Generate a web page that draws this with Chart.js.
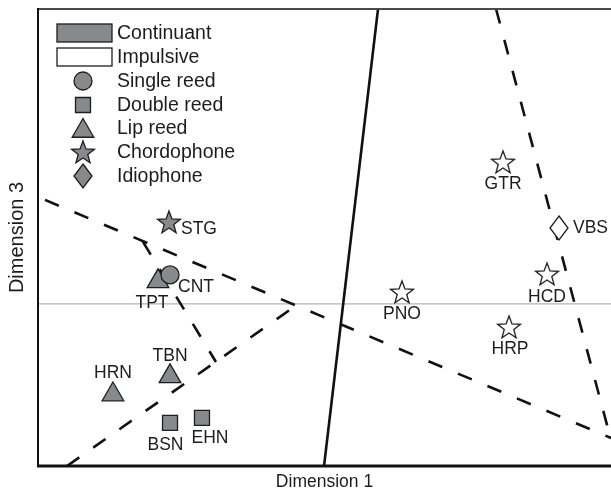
<!DOCTYPE html>
<html>
<head>
<meta charset="utf-8">
<script src="https://cdn.jsdelivr.net/npm/chart.js@4.4.0/dist/chart.umd.min.js"></script>
<style>
  html, body { margin: 0; padding: 0; background: #fff; overflow: hidden; }
  #wrap { width: 611px; height: 491px; position: relative; }
  canvas { display: block; }
</style>
</head>
<body>
<div id="wrap"><canvas id="c" width="611" height="491"></canvas></div>
<script>
// ---------- data ----------
const instruments = ['STG', 'CNT', 'TPT', 'TBN', 'HRN', 'BSN', 'EHN', 'GTR', 'VBS', 'HCD', 'PNO', 'HRP'];
const dim1 = [-1.357, -1.348, -1.453, -1.348, -1.846, -1.348, -1.069, 1.558, 2.046, 1.942, 0.676, 1.610];
const dim3 = [0.506, 0.179, 0.139, -0.447, -0.559, -0.734, -0.703, 0.876, 0.469, 0.185, 0.074, -0.142];
const family = ['Chordophone', 'Single reed', 'Lip reed', 'Lip reed', 'Lip reed', 'Double reed', 'Double reed',
                'Chordophone', 'Idiophone', 'Chordophone', 'Chordophone', 'Chordophone'];
const excitation = ['Continuant', 'Continuant', 'Continuant', 'Continuant', 'Continuant', 'Continuant', 'Continuant',
                    'Impulsive', 'Impulsive', 'Impulsive', 'Impulsive', 'Impulsive'];

// class boundaries (end points in Dimension 1 / Dimension 3 units)
const solidBoundaryX = [0.467, -0.004];
const solidBoundaryY = [1.82, -1.0];
const dashedBoundaries = [
  { x: [-2.439, 2.5], y: [0.642, -0.827] },
  { x: [-2.247, -0.240], y: [-1.0, -0.006] },
  { x: [-1.584, -0.947], y: [0.383, -0.358] },
  { x: [1.497, 2.5], y: [1.82, -0.839] }
];
const excitationTypes = ['Continuant', 'Impulsive'];
const familyTypes = ['Single reed', 'Double reed', 'Lip reed', 'Chordophone', 'Idiophone'];

// ---------- styling / layout (not data) ----------
const GRAY = '#88898b';
const EDGE = '#1e1e1e';
const TEXT = '#1c1c1c';
const FONT = '"Liberation Sans", Arial, Helvetica, sans-serif';
// label placement relative to its marker: [dx, dy, align]
const labelPlacement = {
  STG: [12, 7, 'left'], CNT: [8, 12, 'left'], TPT: [-6, 22, 'center'], TBN: [0, -20.5, 'center'],
  HRN: [0, -21.5, 'center'], BSN: [-4.5, 22, 'center'], EHN: [8, 20, 'center'], GTR: [0, 22, 'center'],
  VBS: [14, 0, 'left'], HCD: [0, 23, 'center'], PNO: [0, 22, 'center'], HRP: [1, 22, 'center']
};

function makeCanvas(w, h, draw) {
  const cv = document.createElement('canvas');
  cv.width = w; cv.height = h;
  const g = cv.getContext('2d');
  draw(g, w / 2, h / 2);
  return cv;
}
function starPath(g, cx, cy, R, r) {
  g.beginPath();
  for (let i = 0; i < 10; i++) {
    const a = -Math.PI / 2 + i * Math.PI / 5;
    const rad = i % 2 === 0 ? R : r;
    const px = cx + Math.cos(a) * rad, py = cy + Math.sin(a) * rad;
    if (i === 0) g.moveTo(px, py); else g.lineTo(px, py);
  }
  g.closePath();
}
function starImg(fill) {
  return makeCanvas(28, 28, (g, cx, cy) => {
    starPath(g, cx, cy + 1, 12, 5);
    g.fillStyle = fill; g.fill();
    g.lineWidth = 1.3; g.strokeStyle = EDGE; g.lineJoin = 'miter'; g.stroke();
  });
}
function diamondImg(fill) {
  return makeCanvas(24, 28, (g, cx, cy) => {
    g.beginPath();
    g.moveTo(cx, cy - 12); g.lineTo(cx + 9, cy); g.lineTo(cx, cy + 12); g.lineTo(cx - 9, cy); g.closePath();
    g.fillStyle = fill; g.fill();
    g.lineWidth = 1.3; g.strokeStyle = EDGE; g.stroke();
  });
}
const styleFor = {
  'Single reed': { pointStyle: 'circle', radius: 9 },
  'Double reed': { pointStyle: 'rect', radius: 10.6 },
  'Lip reed': { pointStyle: 'triangle', radius: 12.5 },
  'Chordophone': { pointStyle: null, radius: 12 },
  'Idiophone': { pointStyle: null, radius: 12 }
};
function pointStyleOf(fam, exc) {
  const fill = exc === 'Continuant' ? GRAY : '#ffffff';
  if (fam === 'Chordophone') return starImg(fill);
  if (fam === 'Idiophone') return diamondImg(fill);
  return styleFor[fam].pointStyle;
}

// ---------- datasets ----------
const datasets = [];
excitationTypes.forEach(exc => {
  familyTypes.forEach(fam => {
    const idx = instruments.map((n, i) => i).filter(i => family[i] === fam && excitation[i] === exc);
    if (!idx.length) return;
    datasets.push({
      type: 'scatter',
      label: fam + ' / ' + exc,
      data: idx.map(i => ({ x: dim1[i], y: dim3[i], name: instruments[i] })),
      pointStyle: pointStyleOf(fam, exc),
      pointRadius: styleFor[fam].radius,
      pointHoverRadius: styleFor[fam].radius,
      backgroundColor: exc === 'Continuant' ? GRAY : '#ffffff',
      borderColor: EDGE,
      borderWidth: 1.3,
      order: 0
    });
  });
});
datasets.push({
  type: 'line', label: 'boundary', data: solidBoundaryX.map((x, i) => ({ x, y: solidBoundaryY[i] })),
  borderColor: '#111', borderWidth: 2.6, pointRadius: 0, fill: false, order: 1, isBoundary: true
});
dashedBoundaries.forEach((b, k) => {
  datasets.push({
    type: 'line', label: 'dashed ' + k, data: b.x.map((x, i) => ({ x, y: b.y[i] })),
    borderColor: '#111', borderWidth: 2.6, borderDash: [15, 17], pointRadius: 0, fill: false, order: 1, isBoundary: true
  });
});
datasets.push({
  type: 'line', label: 'zero', data: [{ x: -2.5, y: 0 }, { x: 2.5, y: 0 }],
  borderColor: '#b4b4b4', borderWidth: 1.2, pointRadius: 0, fill: false, order: 2, isBoundary: true
});

// ---------- plugins ----------
const framePlugin = {
  id: 'frame',
  afterDraw(chart) {
    const { ctx, chartArea: a } = chart;
    ctx.save();
    ctx.lineCap = 'butt';
    ctx.strokeStyle = '#4a4a4a'; ctx.lineWidth = 2;
    ctx.beginPath(); ctx.moveTo(a.left, a.top); ctx.lineTo(a.right, a.top); ctx.stroke();
    ctx.strokeStyle = '#111'; ctx.lineWidth = 2;
    ctx.beginPath(); ctx.moveTo(a.left, a.top - 1); ctx.lineTo(a.left, a.bottom); ctx.stroke();
    ctx.lineWidth = 3;
    ctx.beginPath(); ctx.moveTo(a.left - 1, a.bottom); ctx.lineTo(a.right, a.bottom); ctx.stroke();
    ctx.restore();
  }
};
const labelPlugin = {
  id: 'pointLabels',
  afterDatasetsDraw(chart) {
    const { ctx } = chart;
    ctx.save();
    ctx.font = '17.5px ' + FONT;
    ctx.fillStyle = TEXT;
    ctx.textBaseline = 'middle';
    chart.data.datasets.forEach((ds, di) => {
      if (ds.isBoundary) return;
      const meta = chart.getDatasetMeta(di);
      meta.data.forEach((el, j) => {
        const name = ds.data[j].name;
        const p = labelPlacement[name];
        ctx.textAlign = p[2];
        ctx.fillText(name, el.x + p[0], el.y + p[1]);
      });
    });
    ctx.restore();
  }
};
const legendPlugin = {
  id: 'customLegend',
  afterDraw(chart) {
    const { ctx } = chart;
    ctx.save();
    const rowsY = [33, 57, 81, 105, 128, 152, 176];
    const textX = 117, markX = 83;
    ctx.font = '19.5px ' + FONT;
    ctx.textBaseline = 'middle';
    ctx.textAlign = 'left';
    excitationTypes.forEach((exc, i) => {
      const y = rowsY[i];
      ctx.fillStyle = exc === 'Continuant' ? GRAY : '#fff';
      ctx.fillRect(57, y - 9, 55, 18);
      ctx.strokeStyle = EDGE; ctx.lineWidth = 1.3;
      ctx.strokeRect(57, y - 9, 55, 18);
      ctx.fillStyle = TEXT;
      ctx.fillText(exc, textX, y + 1);
    });
    familyTypes.forEach((fam, k) => {
      const y = rowsY[k + 2];
      const st = pointStyleOf(fam, 'Continuant');
      const opts = { pointStyle: st, radius: styleFor[fam].radius, rotation: 0, borderWidth: 1.3 };
      ctx.fillStyle = GRAY; ctx.strokeStyle = EDGE; ctx.lineWidth = 1.3;
      const yy = fam === 'Lip reed' ? y + 3 : y;
      Chart.helpers.drawPoint(ctx, opts, markX, yy);
      ctx.fillStyle = TEXT;
      ctx.fillText(fam, textX, y + 1);
    });
    ctx.restore();
  }
};

new Chart(document.getElementById('c'), {
  type: 'scatter',
  data: { datasets },
  options: {
    responsive: false,
    maintainAspectRatio: false,
    animation: false,
    devicePixelRatio: 1,
    layout: { autoPadding: false, padding: { top: 9, right: 0, bottom: 0, left: 0 } },
    plugins: { legend: { display: false }, tooltip: { enabled: false } },
    scales: {
      x: {
        type: 'linear', min: -2.5, max: 2.5,
        grid: { display: false, drawTicks: false },
        border: { display: false },
        ticks: { display: false },
        title: { display: true, text: 'Dimension 1', color: TEXT,
                 font: { size: 17.5, family: FONT, lineHeight: 1 }, padding: { top: 7.5, bottom: 0 } }
      },
      y: {
        type: 'linear', min: -1.0, max: 1.82,
        grid: { display: false, drawTicks: false },
        border: { display: false },
        ticks: { display: false },
        title: { display: true, text: 'Dimension 3', color: TEXT,
                 font: { size: 20, family: FONT, lineHeight: 1 }, padding: { top: 7, bottom: 11 } }
      }
    }
  },
  plugins: [framePlugin, labelPlugin, legendPlugin]
});
</script>
</body>
</html>
